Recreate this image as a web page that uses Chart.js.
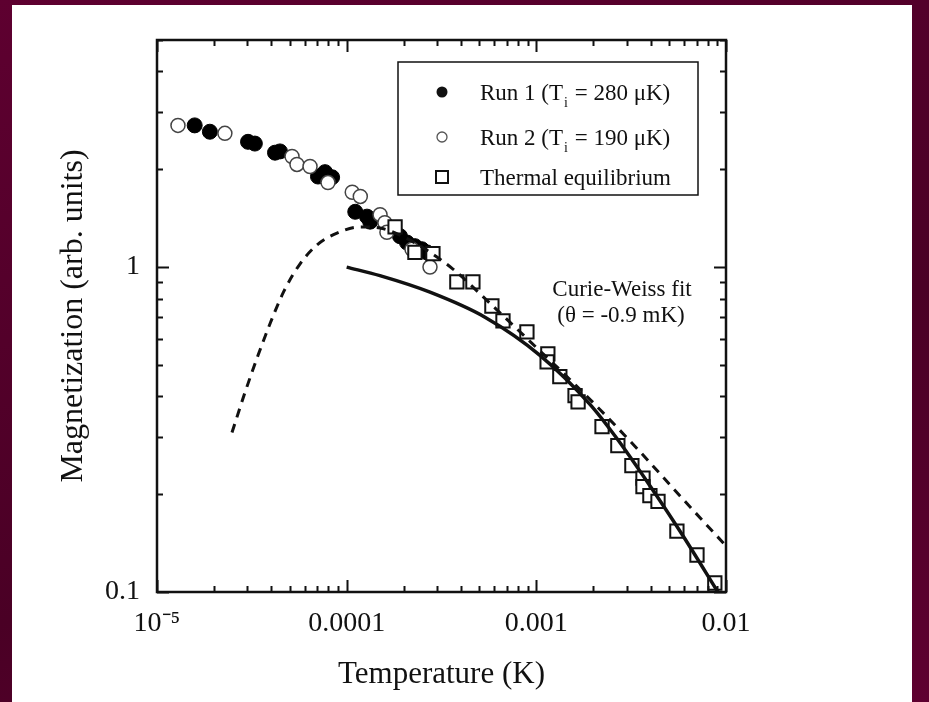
<!DOCTYPE html>
<html>
<head>
<meta charset="utf-8">
<script src="https://cdn.jsdelivr.net/npm/chart.js@4.4.1/dist/chart.umd.min.js"></script>
<style>
  html, body { margin: 0; padding: 0; }
  body {
    width: 929px; height: 702px; overflow: hidden;
    background: linear-gradient(160deg, #5e0030 0%, #4a0025 60%, #5e0030 100%);
  }
  #panel { position: absolute; left: 12px; top: 5px; width: 900px; height: 697px; background: #fff; }
</style>
</head>
<body>
<div id="panel"><canvas id="myChart" width="900" height="697"></canvas></div>
<script>
const serif = "'Liberation Serif', 'Times New Roman', serif";

// Run 1 (Ti = 280 uK), filled circles
const run1T = [1.58e-5, 1.90e-5, 3.02e-5, 3.28e-5, 4.19e-5, 4.45e-5, 7.06e-5, 7.69e-5, 8.38e-5, 1.11e-4, 1.28e-4, 1.33e-4, 1.91e-4, 2.08e-4, 2.29e-4, 2.49e-4, 2.65e-4];
const run1M = [2.73, 2.61, 2.43, 2.40, 2.25, 2.27, 1.90, 1.96, 1.89, 1.48, 1.43, 1.38, 1.245, 1.19, 1.16, 1.135, 1.11];

// Run 2 (Ti = 190 uK), open circles
const run2T = [1.29e-5, 2.28e-5, 5.15e-5, 5.47e-5, 6.41e-5, 7.97e-5, 1.07e-4, 1.18e-4, 1.50e-4, 1.59e-4, 1.63e-4, 2.21e-4, 2.75e-4];
const run2M = [2.73, 2.58, 2.19, 2.07, 2.04, 1.82, 1.70, 1.65, 1.45, 1.37, 1.28, 1.135, 1.0];

// thermal equilibrium, squares
const eqT = [1.80e-4, 2.29e-4, 2.85e-4, 3.81e-4, 4.63e-4, 5.83e-4, 6.67e-4, 8.92e-4, 1.15e-3, 1.14e-3, 1.33e-3, 1.60e-3, 1.66e-3, 2.22e-3, 2.69e-3, 3.19e-3, 3.65e-3, 3.65e-3, 3.97e-3, 4.38e-3, 5.51e-3, 7.03e-3, 8.73e-3];
const eqM = [1.33, 1.11, 1.10, 0.90, 0.90, 0.759, 0.683, 0.632, 0.541, 0.511, 0.460, 0.402, 0.385, 0.323, 0.282, 0.245, 0.224, 0.211, 0.198, 0.190, 0.154, 0.130, 0.1066];

// Curie-Weiss fit (solid)
const cwT = [1.0e-4, 1.497e-4, 2.75e-4, 5.36e-4, 1.045e-3, 1.918e-3, 2.66e-3, 3.97e-3, 5.93e-3, 9.06e-3];
const cwM = [1.0, 0.941, 0.837, 0.701, 0.535, 0.378, 0.2967, 0.2124, 0.149, 0.1];

// dashed curve
const dashT = [2.485e-5, 2.91e-5, 3.41e-5, 3.99e-5, 4.67e-5, 5.67e-5, 6.97e-5, 8.89e-5, 1.175e-4, 1.497e-4, 1.91e-4, 2.587e-4, 3.634e-4, 5.69e-4, 9.25e-4, 1.503e-3, 2.164e-3, 3.516e-3, 5.71e-3, 9.99e-3];
const dashM = [0.3095, 0.4113, 0.535, 0.681, 0.843, 1.022, 1.169, 1.273, 1.329, 1.319, 1.255, 1.137, 0.986, 0.774, 0.591, 0.451, 0.3645, 0.2704, 0.1978, 0.1387];

// axis ticks
const xTicks = [1e-5, 1e-4, 1e-3, 1e-2];
const xTickLabels = ["10\u207B\u2075", "0.0001", "0.001", "0.01"];
const yTicks = [0.1, 1];
const yTickLabels = ["0.1", "1"];

const toPoints = (xs, ys) => xs.map((v, i) => ({ x: v, y: ys[i] }));

// minor tick positions 2..9 in each decade
function minorTicks(lo, hi) {
  const out = [];
  for (let d = lo; d < hi * 0.999; d *= 10) {
    for (let k = 2; k <= 9; k++) {
      if (d * k <= hi * 1.0001) out.push(d * k);
    }
  }
  return out;
}

//Frame with inward ticks on all four sides, legend and note
const framePlugin = {
  id: "frame",
  afterDatasetsDraw(chart) {
    const { ctx, chartArea: a } = chart;
    const x = chart.scales.x;
    const y = chart.scales.y;
    ctx.save();
    ctx.strokeStyle = "#111";
    ctx.lineWidth = 2.5;
    ctx.strokeRect(a.left, a.top, a.right - a.left, a.bottom - a.top);

    ctx.lineWidth = 2;
    ctx.beginPath();
    const xs = xTicks.map((v) => [v, 12]).concat(minorTicks(1e-5, 1e-2).map((v) => [v, 6]));
    xs.forEach(([v, len]) => {
      const px = Math.round(x.getPixelForValue(v)) + 0.5;
      ctx.moveTo(px, a.bottom);
      ctx.lineTo(px, a.bottom - len);
      ctx.moveTo(px, a.top);
      ctx.lineTo(px, a.top + len);
    });
    const ys = yTicks.map((v) => [v, 12]).concat(minorTicks(0.1, 5).map((v) => [v, 6]));
    ys.forEach(([v, len]) => {
      const py = Math.round(y.getPixelForValue(v)) + 0.5;
      ctx.moveTo(a.left, py);
      ctx.lineTo(a.left + len, py);
      ctx.moveTo(a.right, py);
      ctx.lineTo(a.right - len, py);
    });
    ctx.stroke();

    // legend box
    const lx = 386, ly = 57, lw = 300, lh = 133;
    ctx.fillStyle = "#fff";
    ctx.fillRect(lx, ly, lw, lh);
    ctx.lineWidth = 1.5;
    ctx.strokeRect(lx, ly, lw, lh);

    const mx = 430, tx = 468;
    const rows = [89, 134, 174];
    ctx.fillStyle = "#111";
    ctx.beginPath();
    ctx.arc(mx, rows[0] - 2, 5.5, 0, Math.PI * 2);
    ctx.fill();
    ctx.lineWidth = 1.3;
    ctx.strokeStyle = "#555";
    ctx.beginPath();
    ctx.arc(mx, rows[1] - 2, 5, 0, Math.PI * 2);
    ctx.stroke();
    ctx.strokeStyle = "#111";
    ctx.lineWidth = 2;
    ctx.strokeRect(mx - 6, rows[2] - 8, 12, 12);

    ctx.font = "23px " + serif;
    ctx.textBaseline = "middle";
    ctx.textAlign = "left";
    const runLabel = (row, pre, post) => {
      ctx.font = "23px " + serif;
      ctx.fillText(pre, tx, row);
      let w = ctx.measureText(pre).width;
      ctx.font = "14px " + serif;
      ctx.fillText("i", tx + w + 1, row + 9);
      w += ctx.measureText("i").width + 2;
      ctx.font = "23px " + serif;
      ctx.fillText(post, tx + w, row);
    };
    runLabel(rows[0], "Run 1 (T", " = 280 \u03BCK)");
    runLabel(rows[1], "Run 2 (T", " = 190 \u03BCK)");
    ctx.fillText("Thermal equilibrium", tx, rows[2]);

    // fit note
    ctx.textAlign = "center";
    ctx.fillText("Curie-Weiss fit", 610, 285);
    ctx.fillText("(\u03B8 = -0.9 mK)", 609, 311);
    ctx.restore();
  },
};

const ctx = document.getElementById("myChart").getContext("2d");

new Chart(ctx, {
  type: "scatter",
  data: {
    datasets: [
      {
        label: "Curie-Weiss fit",
        data: toPoints(cwT, cwM),
        showLine: true,
        borderColor: "#111",
        borderWidth: 3.5,
        cubicInterpolationMode: "monotone",
        pointRadius: 0,
        clip: false,
      },
      {
        label: "dashed",
        data: toPoints(dashT, dashM),
        showLine: true,
        borderColor: "#111",
        borderWidth: 3,
        borderDash: [9, 7],
        cubicInterpolationMode: "monotone",
        pointRadius: 0,
        clip: false,
      },
      {
        label: "Thermal equilibrium",
        data: toPoints(eqT, eqM),
        pointStyle: "rect",
        pointRadius: 9.4,
        pointBackgroundColor: "#fff",
        pointBorderColor: "#111",
        pointBorderWidth: 2,
        clip: false,
      },
      {
        label: "Run 2",
        data: toPoints(run2T, run2M),
        pointStyle: "circle",
        pointRadius: 7,
        pointBackgroundColor: "#fff",
        pointBorderColor: "#444",
        pointBorderWidth: 1.5,
        clip: false,
      },
      {
        label: "Run 1",
        data: toPoints(run1T, run1M),
        pointStyle: "circle",
        pointRadius: 7.5,
        pointBackgroundColor: "#000",
        pointBorderColor: "#000",
        pointBorderWidth: 1,
        clip: false,
      },
    ],
  },
  options: {
    responsive: false,
    animation: false,
    layout: { padding: { left: 0, right: 186, top: 35, bottom: 0 } },
    plugins: { legend: { display: false }, tooltip: { enabled: false } },
    scales: {
      x: {
        type: "logarithmic",
        position: "bottom",
        min: 1e-5,
        max: 1e-2,
        grid: { display: false, drawTicks: false },
        border: { display: false },
        afterBuildTicks: (scale) => { scale.ticks = xTicks.map((v) => ({ value: v })); },
        afterFit: (scale) => { scale.height = 110; },
        ticks: {
          autoSkip: false,
          maxRotation: 0,
          padding: 15,
          color: "#111",
          font: { family: serif, size: 28 },
          callback: (value) => xTickLabels[xTicks.indexOf(value)],
        },
        title: {
          display: true,
          text: "Temperature (K)",
          color: "#111",
          font: { family: serif, size: 31 },
          padding: { top: 0, bottom: 9 },
        },
      },
      y: {
        type: "logarithmic",
        position: "left",
        min: 0.1,
        max: 5,
        grid: { display: false, drawTicks: false },
        border: { display: false },
        afterBuildTicks: (scale) => { scale.ticks = yTicks.map((v) => ({ value: v })); },
        afterFit: (scale) => { scale.width = 145; },
        ticks: {
          autoSkip: false,
          padding: 17,
          color: "#111",
          font: { family: serif, size: 28 },
          callback: (value) => yTickLabels[yTicks.indexOf(value)],
        },
        title: {
          display: true,
          text: "Magnetization (arb. units)",
          color: "#111",
          font: { family: serif, size: 32 },
          padding: { top: 42, bottom: 0 },
        },
      },
    },
  },
  plugins: [framePlugin],
});
</script>
</body>
</html>
